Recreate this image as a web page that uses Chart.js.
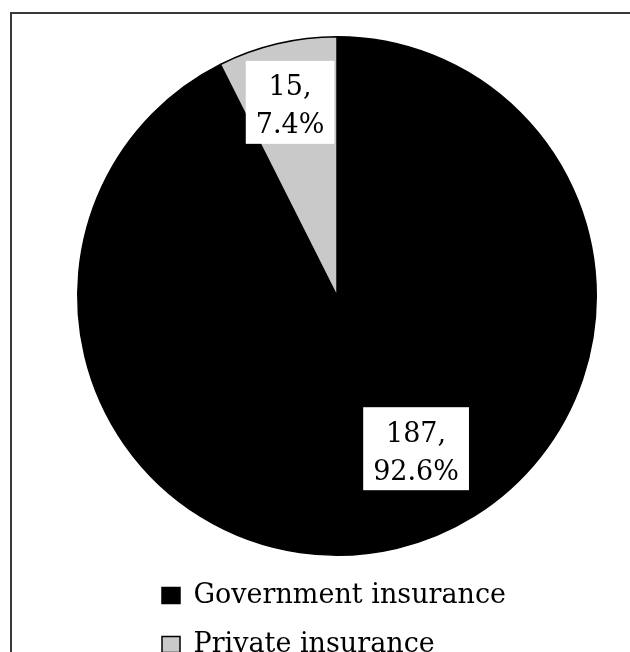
<!DOCTYPE html>
<html lang="en">
<head>
<meta charset="UTF-8">
<title>Insurance type</title>
<script src="https://cdn.jsdelivr.net/npm/chart.js@4.4.1/dist/chart.umd.min.js"></script>
<style>
    html, body { margin: 0; padding: 0; overflow: hidden; background: #fff; }
    .frame { position: absolute; left: 10px; top: 12px; width: 700px; height: 700px; border: 2px solid #3a3a3a; }
    #chart { position: absolute; left: 0; top: 0; }
</style>
</head>
<body>
<div class="frame"></div>
<canvas id="chart" width="630" height="668"></canvas>
<script>
    // chart data
    const categories = ['Government insurance', 'Private insurance'];
    const counts = [187, 15];
    const sliceColors = ['#000000', '#c9c9c9'];

    const total = counts.reduce((a, b) => a + b, 0);

    // where each value box sits, relative to pie centre in units of radius
    const boxSpots = [[0.305, 0.589], [-0.181, -0.747]];

    const valueBoxes = {
        id: 'valueBoxes',
        afterDatasetsDraw(chart) {
            const ctx = chart.ctx;
            const arcs = chart.getDatasetMeta(0).data;
            ctx.save();
            ctx.font = '27px "DejaVu Serif"';
            ctx.textAlign = 'center';
            ctx.textBaseline = 'alphabetic';
            arcs.forEach((arc, i) => {
                const line1 = counts[i] + ',';
                const line2 = (counts[i] / total * 100).toFixed(1) + '%';
                const cx = arc.x + boxSpots[i][0] * arc.outerRadius;
                const cy = arc.y + boxSpots[i][1] * arc.outerRadius;
                const w = Math.max(ctx.measureText(line1).width, ctx.measureText(line2).width) + 20;
                const h = 83;
                ctx.fillStyle = '#fff';
                ctx.fillRect(cx - w / 2, cy - h / 2, w, h);
                ctx.fillStyle = '#000';
                ctx.fillText(line1, cx, cy - 7);
                ctx.fillText(line2, cx, cy + 31);
            });
            ctx.restore();
        }
    };

    // legend rows start at a fixed x, like the original
    const legendShift = {
        id: 'legendShift',
        afterLayout(chart) {
            const lg = chart.legend;
            const dx = 162 - (lg.left + lg.options.labels.padding);
            lg.left += dx;
            lg.right += dx;
        }
    };

    Chart.defaults.font.family = '"DejaVu Serif", serif';
    Chart.defaults.color = '#000';

    new Chart(document.getElementById('chart'), {
        type: 'pie',
        data: {
            labels: categories,
            datasets: [{
                data: counts,
                backgroundColor: sliceColors,
                borderColor: '#000',
                borderWidth: 1.5
            }]
        },
        options: {
            responsive: false,
            devicePixelRatio: 1,
            animation: false,
            layout: { padding: { top: 32, left: 77, right: 33, bottom: 0 } },
            plugins: {
                tooltip: { enabled: false },
                legend: {
                    position: 'bottom',
                    align: 'start',
                    labels: {
                        boxWidth: 18,
                        boxHeight: 16,
                        padding: 22,
                        font: { size: 27 }
                    }
                }
            }
        },
        plugins: [valueBoxes, legendShift]
    });
</script>
</body>
</html>
